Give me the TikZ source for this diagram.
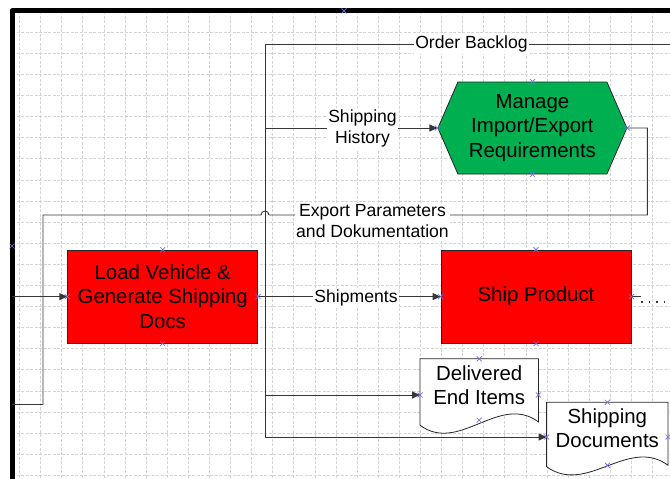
\documentclass[tikz,border=0pt]{standalone}
\usepackage{fontspec}
\setmainfont{Liberation Sans}
\usetikzlibrary{arrows.meta,positioning,calc,shapes.symbols,backgrounds}
\tikzset{>={Triangle[length=8pt,width=7pt]}}
\definecolor{procred}{RGB}{255,0,0}
\definecolor{procgreen}{RGB}{0,176,80}
\definecolor{gridgray}{RGB}{212,212,212}
\definecolor{cptblue}{RGB}{110,110,240}
\definecolor{flowgray}{RGB}{55,55,55}
\tikzset{
  flow/.style={draw=flowgray, line width=0.9pt},
  shapefont/.style={font=\fontsize{20.4}{24.5}\selectfont},
  procbox/.style={shapefont, draw=black!85, line width=0.8pt, fill=procred,
    minimum width=190pt, minimum height=93pt, align=center},
  hexbox/.style={shapefont, signal, signal to=west and east, signal pointer angle=133,
    draw=black!85, line width=0.8pt, fill=procgreen,
    minimum width=189pt, minimum height=92pt, align=center},
  docbox/.style={shapefont, inner sep=0pt, align=center},
  docline/.style={draw=black!85, line width=0.8pt, fill=white},
  flowlabel/.style={font=\fontsize{17.6}{21}\selectfont, fill=white, inner sep=1.5pt, align=center},
  cpt/.style={draw=cptblue, line width=0.7pt}
}

\begin{document}
\begin{tikzpicture}[x=1pt, y=-1pt]
    \useasboundingbox (0,0) rectangle (670,479);
    \begin{scope}[on background layer]
      \clip (12,11) rectangle (670,479);
      \foreach \gx in {0,...,31}
        \draw[gridgray, line width=0.6pt, dash pattern=on 3pt off 1.5pt] (19.4+21.1*\gx,11) -- ++(0,468);
      \foreach \gy in {1,...,22}
        \draw[gridgray, line width=0.6pt, dash pattern=on 3pt off 1.5pt] (12,11+21.1*\gy) -- ++(658,0);
    \end{scope}
    \draw[line width=5pt, line join=round] (12,479) -- (12,10.8) -- (670,10.8);

    \node[procbox] (load) at (162.7,296.6) {Load Vehicle \&\\Generate Shipping\\Docs};
    \node[procbox] (ship) at (536,296.6) {Ship Product};
    \node[hexbox] (manage) at (532.4,128) {Manage\\Import/Export\\Requirements};
    \node[docbox, minimum width=118pt, minimum height=52pt] (delivered) at (479.2,385) {Delivered\\End Items};
    \node[docbox, minimum width=121pt, minimum height=51pt] (shipdocs) at (607.3,428) {Shipping\\Documents};

    \begin{scope}[on background layer]
      \draw[docline] (delivered.north west) -- (delivered.north east)
        -- ($(delivered.south east)+(0,10.7)$) .. controls +(-39,-29) and +(39,29) .. ($(delivered.south west)+(0,14)$) -- cycle;
      \draw[docline] (shipdocs.north west) -- (shipdocs.north east)
        -- ($(shipdocs.south east)+(0,11.5)$) .. controls +(-40,-29) and +(40,29) .. ($(shipdocs.south west)+(0,13)$) -- cycle;
    \end{scope}

    \coordinate (obin) at (670,44);
    \coordinate (trunk) at (265,44);
    \coordinate (hop) at (265,215);
    \coordinate (lin) at (12,296.6);
    \coordinate (lout) at (12,404.5);
    \coordinate (dlvin) at ([yshift=-10pt]delivered.west);
    \coordinate (dlvout) at ([yshift=-10pt]delivered.east);
    \coordinate (dlvbot) at ([yshift=-9pt]delivered.south);
    \coordinate (sdin) at ([yshift=-9pt]shipdocs.west);
    \coordinate (sdout) at ([yshift=-9pt]shipdocs.east);
    \coordinate (sdbot) at ([yshift=-11.5pt]shipdocs.south);

    \draw[flow,->] (obin) -- (trunk) -- (trunk |- sdin) -- (sdin);
    \draw[flow,->] (trunk |- manage.west) -- (manage.west);
    \draw[flow,->] (trunk |- dlvin) -- (dlvin);
    \draw[flow] (manage.east) -- ++(20,0) |- ([xshift=4pt]hop)
      arc[start angle=0, end angle=180, radius=4pt] -- (43,215) |- (lout);
    \draw[flow,->] (lin) -- (load.west);
    \draw[flow,->] (load.east) -- (ship.west);
    \draw[flow] (ship.east) -- ++(10,0) coordinate (stub);
    \draw[flowgray, line width=1.6pt, dash pattern=on 1.6pt off 5.8pt] ([yshift=-5.5pt]stub) -- ++(30,0);

    \node[flowlabel] (backlog) at (471.5,44) {Order Backlog};
    \node[flowlabel] (history) at (362.5,128.5) {Shipping\\History};
    \node[flowlabel] (params) at (372.5,221.5) {Export Parameters\\and Dokumentation};
    \node[flowlabel] (shipments) at (356,297.5) {Shipments};

    \coordinate (topmark) at (344,10.8);
    \coordinate (leftmark) at (12,246);
    \foreach \p in {topmark, leftmark, load.north, load.south, load.west, load.east,
        ship.north, ship.south, ship.west, ship.east, manage.north, manage.south, manage.west, manage.east,
        delivered.north, dlvin, dlvout, dlvbot, shipdocs.north, sdin, sdout, sdbot}
      \draw[cpt] (\p) +(-2.5,-2.5) -- +(2.5,2.5) +(-2.5,2.5) -- +(2.5,-2.5);
\end{tikzpicture}
\end{document}
